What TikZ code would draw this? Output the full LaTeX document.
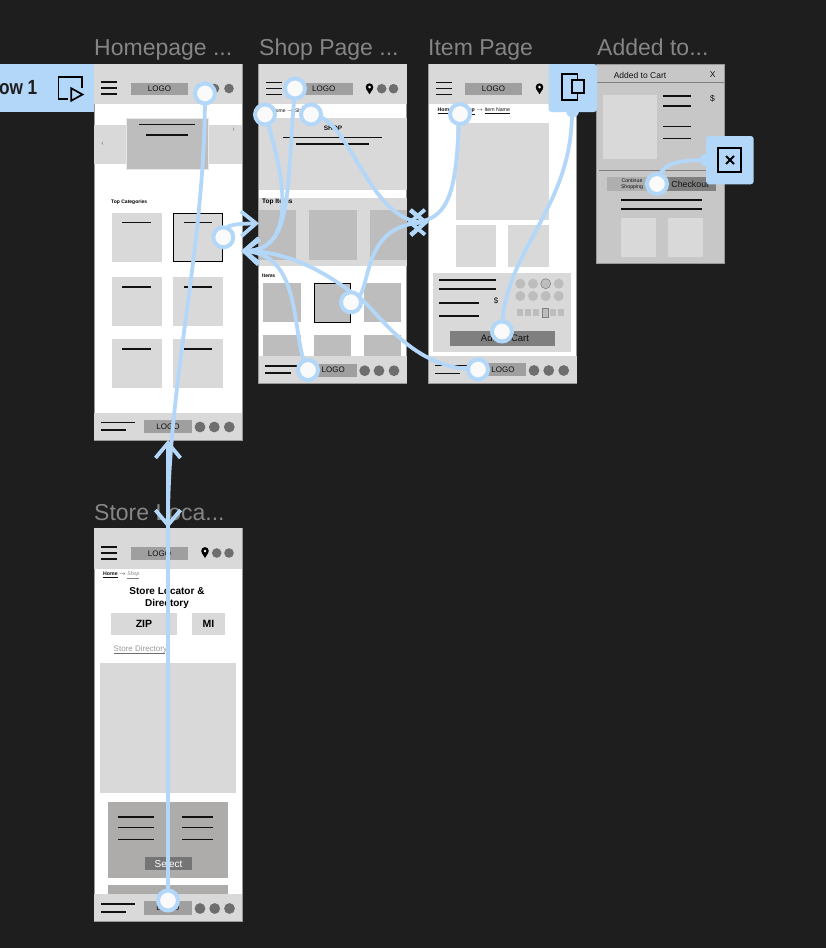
\documentclass[tikz,border=0pt]{standalone}
\usepackage{fontspec}
\setmainfont{Liberation Sans}
\usetikzlibrary{arrows.meta}
\definecolor{bg}{HTML}{1E1E1E}
\definecolor{hot}{HTML}{B3D7F9}
\definecolor{gA}{HTML}{D9D9D9}
\definecolor{gB}{HTML}{BDBDBD}
\definecolor{gC}{HTML}{9F9F9F}
\definecolor{gD}{HTML}{6E6E6E}
\definecolor{gE}{HTML}{C7C7C7}
\definecolor{gF}{HTML}{7F7F7F}
\definecolor{gG}{HTML}{AEACAA}
\definecolor{ink}{HTML}{111111}
\definecolor{ttl}{HTML}{858585}
\newcounter{tn}
\newcommand{\bx}[5]{\fill[#5] (#1,#2) rectangle (#3,#4);}
\newcommand{\hl}[4][1.35pt]{\draw[ink,line width=#1] (#2,#4) -- (#3,#4);}
\newcommand{\txt}[5][]{\stepcounter{tn}\node[inner sep=0pt,text=#2,#1] (t\arabic{tn}) at ({#3},{#4}) {#5};}
\newcommand{\burger}[2]{\hl[1.5pt]{#1}{#1+16}{#2-6}\hl[1.5pt]{#1}{#1+16}{#2}\hl[1.5pt]{#1}{#1+16}{#2+6}}
\newcommand{\dotc}[4]{\fill[#4] (#1,#2) circle (#3);}
\newcommand{\pin}[2]{\fill[black] (#1,#2-1.6) circle (3.8); \fill[black] (#1-3.5,#2) -- (#1,#2+5.5) -- (#1+3.5,#2) -- cycle; \fill[white] (#1,#2-1.6) circle (1.4);}
\newcommand{\logobox}[4]{\bx{#1}{#2}{#3}{#4}{gC}\txt{ink}{(#1+#3)/2}{(#2+#4)/2}{\fontsize{8}{8}\selectfont LOGO}}
\tikzset{
  hotspot/.style={circle,fill=white!98!black,draw=hot,line width=4pt,minimum size=20pt,inner sep=0pt},
  link/.style={draw=hot,line width=3.8pt,line cap=round},
  barb/.style={link,-{Straight Barb[length=15pt,width=25pt,line width=3.8pt]}},
  framelabel/.style={anchor=base west,inner sep=0pt,text=ttl,font=\fontsize{23}{23}\selectfont},
  frameedge/.style={draw=gray!80,line width=0.6pt,fill=white}
}
\begin{document}
\begin{tikzpicture}[x=1pt,y=-1pt]
\useasboundingbox (0,0) rectangle (826,948);
\fill[bg] (0,0) rectangle (826,948);
% titles
\node[framelabel] (lHome) at (94,55) {Homepage ...};
\node[framelabel] (lShop) at (259,55) {Shop Page ...};
\node[framelabel] (lItem) at (428,55) {Item Page};
\node[framelabel] (lAdd) at (597,55) {Added to...};
\node[framelabel] (lStore) at (94,520) {Store Loca...};
% ---------- Homepage
\filldraw[frameedge] (94,64) rectangle (242,440);
\bx{94}{64}{242}{103.5}{gA}
\burger{101}{88}
\logobox{131}{82.5}{188}{95}
\dotc{200}{88.5}{4.8}{gD}\dotc{214.5}{88.5}{4.8}{gD}\dotc{229}{88.5}{4.8}{gD}
\bx{94}{124.5}{242}{164}{gA}
\filldraw[draw=gA!60,fill=gB,line width=0.5pt] (126,118) rectangle (208.5,169);
\hl{139}{195}{124.5}\hl{146}{188}{135}
\txt{gD}{102.5}{143.5}{\fontsize{7}{7}\selectfont ‹}
\txt{gD}{233.5}{130}{\fontsize{7}{7}\selectfont ›}
\txt[anchor=west]{black}{111}{202}{\fontsize{5}{5}\selectfont\bfseries Top Categories}
\foreach \a/\b in {212.7/261.7,277/326,339/388}{
  \bx{112}{\a}{161.7}{\b}{gA}
  \bx{173.3}{\a}{222.7}{\b}{gA}
  \hl[1.5pt]{122.3}{151}{\a+10}
  \hl[1.5pt]{184}{212.3}{\a+10}
}
\draw[black,line width=1pt] (173.5,213) rectangle (222.5,261.5);
\bx{94}{412.7}{242}{440}{gA}
\hl{101}{135}{422.3}\hl{101}{126}{430}
\logobox{144}{420}{192}{433}
\dotc{200}{427}{5.4}{gD}\dotc{214.3}{427}{5.4}{gD}\dotc{229.3}{427}{5.4}{gD}
% ---------- Shop
\filldraw[frameedge] (258.5,64) rectangle (406.5,383);
\bx{258.5}{64}{406.5}{103.7}{gA}
\burger{266}{88.5}
\logobox{295}{82.5}{352.5}{95}
\pin{369.5}{88.7}
\dotc{381.7}{88.7}{4.8}{gD}\dotc{393.5}{88.7}{4.8}{gD}
\txt[anchor=west]{ink}{272}{111}{\fontsize{5}{5}\selectfont Home $\rightarrow$ Shop}
\bx{258.5}{118.3}{406.5}{190}{gA}
\txt{ink}{333}{128}{\fontsize{6.5}{6.5}\selectfont\bfseries SHOP}
\hl{283}{382}{137.5}\hl{296}{369}{144}
\bx{258.5}{197.5}{406.5}{266}{gA}
\txt[anchor=west]{black}{262}{202}{\fontsize{6.5}{6.5}\selectfont\bfseries Top Items}
\bx{259}{210}{296}{260}{gB}\bx{309}{210}{357}{260}{gB}\bx{370}{210}{406.5}{260}{gB}
\txt[anchor=west]{black}{262}{276}{\fontsize{5}{5}\selectfont\bfseries Items}
\foreach \p/\q in {263.3/301,314/351,364/401}{
  \bx{\p}{282.7}{\q}{322.3}{gB}
  \bx{\p}{335}{\q}{356}{gB}
}
\draw[black,line width=1pt] (314.3,283) rectangle (350.7,322);
\bx{258.5}{356}{406.5}{383}{gA}
\hl{265}{298}{366}\hl{265}{291}{373}
\logobox{310}{363.5}{356.5}{376.5}
\dotc{364.7}{370.7}{5.4}{gD}\dotc{379}{370.7}{5.4}{gD}\dotc{394}{370.7}{5.4}{gD}
% ---------- Item
\filldraw[frameedge] (428.7,64) rectangle (576.5,383);
\bx{428.7}{64}{576.5}{103.7}{gA}
\burger{436}{88.5}
\logobox{465}{82.5}{522}{95}
\pin{539.5}{88.7}
\txt[anchor=west]{ink}{437.5}{111}{\fontsize{5.2}{5.2}\selectfont\underline{\textbf{Home}} $\rightarrow$ \underline{\textbf{Shop}} $\rightarrow$ \underline{Item Name}}
\bx{455.7}{123.3}{549}{220}{gA}
\bx{455.7}{225}{496}{266.7}{gA}\bx{508}{225}{549}{266.7}{gA}
\bx{433.3}{273.3}{571}{352.3}{gA}
\hl[1.6pt]{439}{496}{280}\hl[1.6pt]{439}{496}{289}
\hl{439}{479}{303}\hl{439}{479}{316}
\txt{ink}{496}{301}{\fontsize{8}{8}\selectfont \$}
\foreach \c in {520.3,533,545.7,558.7}{\dotc{\c}{283.7}{5}{gB}\dotc{\c}{296}{5}{gB}}
\draw[gF,line width=0.5pt] (545.7,283.7) circle (5);
\foreach \c in {520,528,536,545,553,561}{\bx{\c-3}{308.5}{\c+3}{315.5}{gB}}
\filldraw[draw=gF,fill=gB,line width=0.5pt] (542,308) rectangle (548,317);
\bx{450}{331}{555}{345.5}{gF}
\txt{ink}{505}{338.5}{\fontsize{9.5}{9.5}\selectfont Add to Cart}
\bx{428.7}{355.7}{576.5}{383}{gA}
\hl{435}{467}{365.7}\hl{435}{460}{373.5}
\logobox{480}{363}{526}{376}
\dotc{534}{370.5}{5.4}{gD}\dotc{548.7}{370.5}{5.4}{gD}\dotc{563.7}{370.5}{5.4}{gD}
% ---------- Added to cart
\filldraw[draw=gray!80,fill=gE,line width=0.6pt] (596.7,64) rectangle (724,263.5);
\txt{ink}{640}{75}{\fontsize{8.5}{8.5}\selectfont Added to Cart}
\txt{ink}{712.6}{75}{\fontsize{8.5}{8.5}\selectfont X}
\draw[gray,line width=0.7pt] (596.7,82.3) -- (724,82.3);
\bx{603}{95}{657}{159}{gA}
\hl{663}{691}{96}\hl{663}{691}{106}\hl{663}{691}{126.5}\hl{663}{691}{138.5}
\txt{ink}{712.5}{99}{\fontsize{8.5}{8.5}\selectfont \$}
\draw[gray,line width=0.7pt] (599,170.3) -- (724,170.3);
\bx{607}{177}{660}{191}{gC!60!gE}
\bx{665}{177}{715.7}{191}{gF}
\node[inner sep=0pt,align=center,text=ink,font=\fontsize{5.2}{6}\selectfont] (tCont) at (632,184) {Continue\\Shopping};
\txt{ink}{690}{184}{\fontsize{8.8}{8.8}\selectfont Checkout}
\hl{621}{702}{200}\hl{621}{702}{209}
\bx{621}{217.5}{656}{257}{gA}\bx{668}{217.5}{703}{257}{gA}
% ---------- Store locator
\filldraw[frameedge] (94,528) rectangle (242,921);
\bx{94}{528}{242}{568.5}{gA}
\burger{101}{553}
\logobox{131}{547}{188}{559.5}
\pin{205}{552.5}
\dotc{216.7}{553}{4.8}{gD}\dotc{229}{553}{4.8}{gD}
\txt[anchor=west]{ink}{103}{575}{\fontsize{5.2}{5.2}\selectfont\underline{\textbf{Home}} $\rightarrow$ \textcolor{gray}{\underline{\textit{Shop}}}}
\txt{black}{167}{591.5}{\fontsize{10}{10}\selectfont\bfseries Store Locator \&}
\txt{black}{167}{603.5}{\fontsize{10}{10}\selectfont\bfseries Directory}
\bx{111}{612.7}{176.7}{635}{gA}\bx{192}{612.7}{225}{635}{gA}
\txt{black}{144}{624}{\fontsize{10.5}{10.5}\selectfont\bfseries ZIP}
\txt{black}{208.5}{624}{\fontsize{10.5}{10.5}\selectfont\bfseries MI}
\txt[anchor=west]{gray!80}{113.5}{649}{\fontsize{8}{8}\selectfont Store Directory}
\draw[gD,line width=0.5pt] (113.5,653.5) -- (165,653.5);
\bx{100}{663}{236}{793}{gA}
\bx{108}{801.7}{227.5}{878}{gG}
\foreach \w in {817,827.7,839.5}{\hl{118}{154}{\w}\hl{182}{213}{\w}}
\bx{145}{856.7}{192}{870}{gD!85!gC}
\txt{white}{168.5}{863.5}{\fontsize{10}{10}\selectfont Select}
\bx{108}{885}{227.5}{895}{gG}
\bx{94}{894}{242}{921}{gA}
\hl{101}{135}{904}\hl{101}{126}{912}
\logobox{144}{901}{192}{914.5}
\dotc{200}{908.5}{5.4}{gD}\dotc{214.7}{908.5}{5.4}{gD}\dotc{229.5}{908.5}{5.4}{gD}
% ---------- hotspots (anchors for connectors)
\coordinate (hHome) at (205,93.5);
\coordinate (hCat) at (223.3,237.3);
\coordinate (hStore) at (168,900.5);
\coordinate (hShopA) at (295,88.5);
\coordinate (hShopB) at (265,114.5);
\coordinate (hShopC) at (311,114.5);
\coordinate (hShopTile) at (351,302.3);
\coordinate (hShopFoot) at (308,370);
\coordinate (hItemA) at (460,114);
\coordinate (hAddBtn) at (502,331.5);
\coordinate (hItemFoot) at (478,369.5);
\coordinate (hCheck) at (657,184);
% targets
\coordinate (toStore) at (168,528);
\coordinate (toHomeB) at (168,440);
\coordinate (toShopL) at (259,223.3);
\coordinate (toHomeR) at (241,251);
\coordinate (toItemL) at (428.5,222.3);
\coordinate (toShopR) at (407,222.3);
\coordinate (tailFlow) at (572,112);
\coordinate (tailClose) at (706,160);
% connectors
\draw[barb] (hHome) .. controls (205,250) and (168,380) .. (toStore);
\draw[barb] (hStore) -- (toHomeB);
\draw[barb] (hCat) .. controls (223,225) and (230,224) .. (toShopL);
\draw[barb] (hShopA) .. controls (286,195) and (293,250) .. (toHomeR);
\draw[barb] (hShopB) .. controls (283,170) and (300,250) .. (toHomeR);
\draw[barb] (hShopC) .. controls (350,115) and (368,222) .. (toItemL);
\draw[barb] (hShopTile) .. controls (375,300) and (355,225) .. (toItemL);
\draw[barb] (hShopFoot) .. controls (290,340) and (305,255) .. (toHomeR);
\draw[barb] (hItemFoot) .. controls (405,370) and (375,302) .. (351,292) .. controls (315,265) and (280,251) .. (toHomeR);
\draw[barb] (hItemA) .. controls (455,170) and (458,222) .. (toShopR);
\draw[link] (hAddBtn) .. controls (503,250) and (572,210) .. (tailFlow);
\draw[link] (hCheck) .. controls (660,165) and (672,160) .. (tailClose);
% hotspot rings on top
\foreach \h in {hHome,hCat,hStore,hShopA,hShopB,hShopC,hShopTile,hShopFoot,hItemA,hAddBtn,hItemFoot,hCheck}{
  \node[hotspot] (ring\h) at (\h) {};
}
% flow 1 tile
\fill[hot] (0,64) rectangle (94,112);
\txt[anchor=east]{bg}{37.5}{88}{\scalebox{0.84}[1]{\fontsize{20.5}{20.5}\selectfont\bfseries ow 1}}
\draw[black,line width=1.7pt] (81.7,88) -- (81.7,76.8) -- (58.5,76.8) -- (58.5,99) -- (68,99);
\draw[black,line width=1.7pt,line join=miter,fill=hot] (71.3,88.3) -- (71.3,100.7) -- (82.5,94.5) -- cycle;
% item page overlay tile
\fill[hot,rounded corners=3pt] (548.5,64) -- (597,64) -- (597,112) -- (548.5,112) -- cycle;
\fill[hot] (572.5,111) circle (6.5);
\draw[black,line width=1.8pt] (561.7,74.3) rectangle (577.5,100);
\filldraw[draw=black,fill=hot,line width=1.8pt] (571.7,80) rectangle (584,92.7);
% close tile
\fill[hot,rounded corners=3pt] (706,136) rectangle (753.7,184.3);
\fill[hot] (706.5,160) circle (6.5);
\draw[black,line width=1.9pt] (718.3,148.3) rectangle (741,171.7);
\draw[black,line width=1.9pt] (726,156) -- (734,164) (734,156) -- (726,164);
\end{tikzpicture}
\end{document}
